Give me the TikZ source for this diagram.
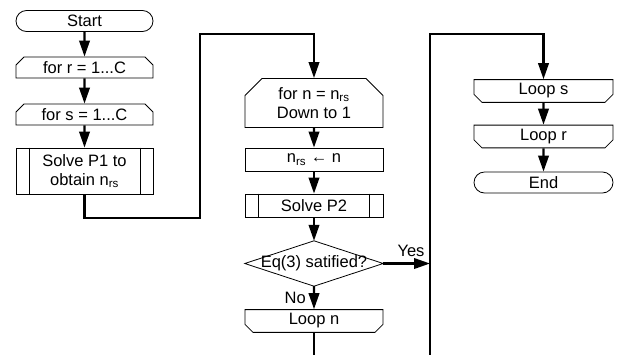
\documentclass[tikz,border=0pt]{standalone}
\usepackage{fontspec}
\setmainfont{Liberation Sans}
\usetikzlibrary{shapes.misc,arrows.meta}
\begin{document}
\begin{tikzpicture}[x=1pt,y=-1pt,
  font=\fontsize{16.5}{19}\selectfont,
  box/.style={draw, line width=0.8pt, inner sep=0pt, minimum width=137pt, minimum height=21pt, align=center},
  term/.style={box, rounded rectangle},
  plain/.style={box, rectangle},
  loopstart/.style={box, chamfered rectangle, chamfered rectangle corners={north west,north east}, chamfered rectangle xsep=4pt, chamfered rectangle ysep=4pt},
  loopend/.style={box, chamfered rectangle, chamfered rectangle corners={south west,south east}, chamfered rectangle xsep=4pt, chamfered rectangle ysep=4pt},
  conn/.style={line width=2.2pt, -{Triangle[length=16pt,width=10.5pt]}},
  lbl/.style={inner sep=0pt}
]
\useasboundingbox (0,0) rectangle (618,354);
% column 1
\node[term] (start) at (84.5,21) {Start};
\node[loopstart] (forr) at (84.5,67.5) {for r = 1...C};
\node[loopstart] (fors) at (84.5,114.5) {for s = 1...C};
\node[plain, minimum height=46pt] (p1) at (84.5,171) {Solve P1 to\\obtain n\textsubscript{rs}};
\draw[line width=0.8pt] ([xshift=13.5pt]p1.north west) -- ([xshift=13.5pt]p1.south west);
\draw[line width=0.8pt] ([xshift=-13.5pt]p1.north east) -- ([xshift=-13.5pt]p1.south east);
% column 2
\node[loopstart, minimum width=138pt, minimum height=46pt, chamfered rectangle xsep=8pt, chamfered rectangle ysep=9pt] (forn) at (314,103) {for n = n\textsubscript{rs}\\Down to 1};
\node[plain, minimum width=138pt, minimum height=23pt] (upd) at (314,159.5) {n\textsubscript{rs} ← n};
\node[plain, minimum width=138pt, minimum height=23pt] (p2) at (314,205.5) {Solve P2};
\draw[line width=0.8pt] ([xshift=14pt]p2.north west) -- ([xshift=14pt]p2.south west);
\draw[line width=0.8pt] ([xshift=-14pt]p2.north east) -- ([xshift=-14pt]p2.south east);
\node[inner sep=0pt, minimum width=138pt, minimum height=45pt] (dec) at (314,263.5) {Eq(3) satified?};
\draw[line width=0.8pt] (dec.north) -- (dec.east) -- (dec.south) -- (dec.west) -- cycle;
\node[loopend, minimum width=138pt, minimum height=22pt] (loopn) at (314,321) {Loop n};
% column 3
\node[loopend, minimum width=139pt, minimum height=22pt] (loops) at (543.5,91) {Loop s};
\node[loopend, minimum width=139pt, minimum height=21pt] (loopr) at (543.5,136.5) {Loop r};
\node[term, minimum width=139pt] (endn) at (543.5,182.5) {End};
% labels
\node[lbl, anchor=base] (yes) at (411,256) {Yes};
\node[lbl, anchor=base east] (no) at (306,303) {No};
% connector coordinates
\coordinate (c1) at (200,218);
\coordinate (c2) at (200,34);
\coordinate (j) at (430,263.5);
\coordinate (b2) at (430,355.6);
\coordinate (t1) at (430,34);
% connectors
\draw[conn] (start) -- (forr);
\draw[conn] (forr) -- (fors);
\draw[conn] (fors) -- (p1);
\draw[conn] (p1.south) |- (c1) -- (c2) -| (forn.north);
\draw[conn] (forn) -- (upd);
\draw[conn] (upd) -- (p2);
\draw[conn] (p2) -- (dec.north);
\draw[conn] (dec.south) -- (loopn);
\draw[conn] (dec.east) -- (j);
\draw[conn] (loopn.south) |- (b2) -- (t1) -| (loops.north);
\draw[conn] (loops) -- (loopr);
\draw[conn] (loopr) -- (endn);
\end{tikzpicture}
\end{document}
